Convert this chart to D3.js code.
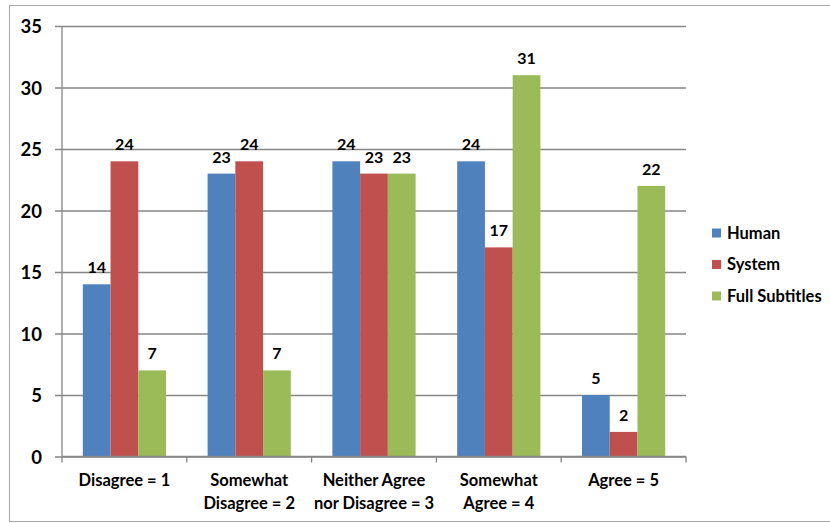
<!DOCTYPE html>
<html>
<head>
<meta charset="utf-8">
<script src="https://cdn.jsdelivr.net/npm/d3@7"></script>
<style>
  html, body { margin: 0; padding: 0; background: #fff; }
  svg { display: block; font-family: Lato, "Open Sans", sans-serif; font-weight: bold; }
</style>
</head>
<body>
<svg id="chart" width="830" height="523"></svg>
<script>
// Survey responses per agreement level, for three subtitle conditions
const categories = [
  ["Disagree = 1"],
  ["Somewhat", "Disagree = 2"],
  ["Neither Agree", "nor Disagree = 3"],
  ["Somewhat", "Agree = 4"],
  ["Agree = 5"]
];
const seriesNames = ["Human", "System", "Full Subtitles"];
const human = [14, 23, 24, 24, 5];
const system = [24, 24, 23, 17, 2];
const fullSubtitles = [7, 7, 23, 31, 22];
const yTicks = [0, 5, 10, 15, 20, 25, 30, 35];
const colors = ["#4F81BD", "#C0504D", "#9BBB59"];

const seriesValues = [human, system, fullSubtitles];

const svg = d3.select("#chart");

// Outer chart frame
svg.append("rect")
  .attr("x", 9.5).attr("y", 5.5)
  .attr("width", 840).attr("height", 516)
  .attr("fill", "#fff").attr("stroke", "#a6a6a6").attr("stroke-width", 1);

const plot = { left: 62, right: 686, top: 26, bottom: 456.5 };

const x = d3.scaleBand()
  .domain(d3.range(categories.length))
  .range([plot.left, plot.right])
  .paddingInner(0.3333)
  .paddingOuter(0.16667);

const xs = d3.scaleBand()
  .domain(d3.range(seriesNames.length))
  .range([0, x.bandwidth()]);

const y = d3.scaleLinear().domain([0, 35]).range([plot.bottom, plot.top]);

// Horizontal gridlines with small outside ticks
const yAxis = d3.axisLeft(y)
  .tickValues(yTicks)
  .tickSize(-(plot.right - plot.left))
  .tickSizeOuter(0)
  .tickPadding(20)
  .tickFormat(d3.format("d"));

const gy = svg.append("g")
  .attr("transform", `translate(${plot.left},0)`)
  .call(yAxis);
gy.select(".domain").remove();
gy.selectAll(".tick line")
  .attr("x1", -7)
  .attr("stroke", "#868686").attr("stroke-width", 1.3);
gy.selectAll(".tick text")
  .attr("fill", "#000")
  .attr("dy", "0.36em")
  .style("font-family", "Lato, 'Open Sans', sans-serif")
  .style("font-weight", "bold")
  .style("font-size", "18.5px");

// Vertical axis line
svg.append("line")
  .attr("x1", plot.left).attr("x2", plot.left)
  .attr("y1", plot.top).attr("y2", plot.bottom)
  .attr("stroke", "#868686").attr("stroke-width", 1.3);

// Bars
const groups = svg.append("g").selectAll("g")
  .data(categories.map((c, i) => i))
  .join("g")
  .attr("transform", i => `translate(${x(i)},0)`);

groups.selectAll("rect")
  .data(i => seriesValues.map((vals, s) => ({ s, v: vals[i] })))
  .join("rect")
  .attr("x", d => xs(d.s))
  .attr("y", d => y(d.v))
  .attr("width", xs.bandwidth())
  .attr("height", d => y(0) - y(d.v))
  .attr("fill", d => colors[d.s]);

// Value labels above each bar
groups.selectAll("text")
  .data(i => seriesValues.map((vals, s) => ({ s, v: vals[i] })))
  .join("text")
  .attr("x", d => xs(d.s) + xs.bandwidth() / 2)
  .attr("y", d => y(d.v) - 11)
  .attr("text-anchor", "middle")
  .attr("font-size", 16)
  .attr("fill", "#000")
  .text(d => d.v);

// Category axis
const xAxisLine = svg.append("g");
xAxisLine.append("line")
  .attr("x1", plot.left).attr("x2", plot.right)
  .attr("y1", plot.bottom).attr("y2", plot.bottom)
  .attr("stroke", "#868686").attr("stroke-width", 1.3);
const step = (plot.right - plot.left) / categories.length;
xAxisLine.selectAll("line.tk")
  .data(d3.range(categories.length + 1))
  .join("line")
  .attr("class", "tk")
  .attr("x1", i => plot.left + i * step).attr("x2", i => plot.left + i * step)
  .attr("y1", plot.bottom).attr("y2", plot.bottom + 6)
  .attr("stroke", "#868686").attr("stroke-width", 1.3);

svg.append("g").selectAll("text")
  .data(categories)
  .join("text")
  .attr("text-anchor", "middle")
  .attr("font-size", 16.5)
  .attr("fill", "#000")
  .each(function(lines, i) {
    const t = d3.select(this);
    lines.forEach((ln, k) => {
      t.append("tspan")
        .attr("x", x(i) + x.bandwidth() / 2)
        .attr("y", 486 + k * 23)
        .text(ln);
    });
  });

// Legend
const legend = svg.append("g").selectAll("g")
  .data(seriesNames)
  .join("g")
  .attr("transform", (d, i) => `translate(712,${233 + i * 31.5})`);
legend.append("rect")
  .attr("x", 0).attr("y", -4.5)
  .attr("width", 9).attr("height", 9)
  .attr("fill", (d, i) => colors[i]);
legend.append("text")
  .attr("x", 15).attr("y", 5.5)
  .attr("font-size", 16.5)
  .attr("fill", "#000")
  .text(d => d);
</script>
</body>
</html>
